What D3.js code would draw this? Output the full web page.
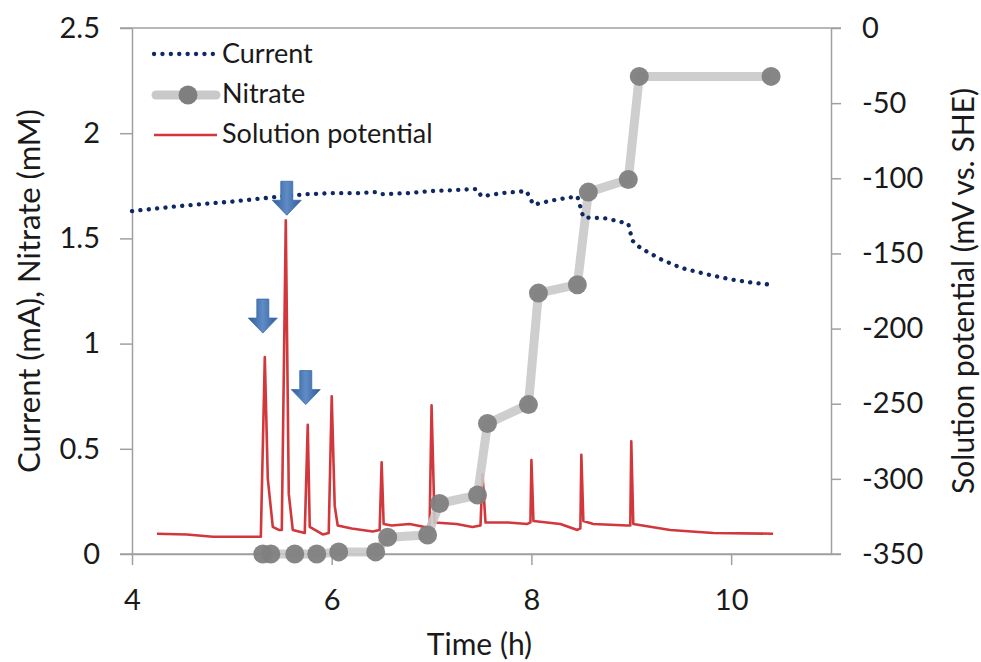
<!DOCTYPE html>
<html>
<head>
<meta charset="utf-8">
<script src="https://cdn.jsdelivr.net/npm/d3@7"></script>
<style>
  body { margin: 0; background: #fff; }
  svg text { font-family: Lato, "Open Sans", sans-serif; fill: #1a1a1a; }
</style>
</head>
<body>
<div id="chart"></div>
<script>
// time ticks and axis ticks
var timeTicks = [4, 6, 8, 10],
    leftTicks = [0, 0.5, 1, 1.5, 2, 2.5],
    rightTicks = [0, -50, -100, -150, -200, -250, -300, -350];

// current (mA) vs time (h)
var currentTime = [4.0, 4.5, 5.0, 5.3, 5.5, 5.75, 6.0, 6.25, 6.45, 6.5, 6.75, 7.0, 7.25, 7.45, 7.5, 7.7, 7.95, 8.02, 8.2, 8.46, 8.52, 8.75, 8.97, 9.01, 9.09, 9.3, 9.5, 9.75, 10.0, 10.2, 10.4],
    currentVal  = [1.63, 1.655, 1.675, 1.69, 1.70, 1.71, 1.715, 1.715, 1.72, 1.71, 1.715, 1.725, 1.73, 1.735, 1.70, 1.715, 1.725, 1.66, 1.68, 1.70, 1.60, 1.595, 1.57, 1.49, 1.455, 1.40, 1.36, 1.33, 1.305, 1.29, 1.28];

// nitrate (mM) samples
var nitrateTime = [5.31, 5.39, 5.63, 5.85, 6.07, 6.44, 6.56, 6.96, 7.08, 7.46, 7.56, 7.97, 8.07, 8.46, 8.57, 8.97, 9.08, 10.40],
    nitrateVal  = [0, 0, 0, 0, 0.01, 0.01, 0.08, 0.09, 0.24, 0.28, 0.62, 0.71, 1.24, 1.28, 1.72, 1.78, 2.27, 2.27];

// solution potential (mV vs. SHE)
var potentialTime = [4.25, 4.55, 4.81, 5.29, 5.33, 5.36, 5.41, 5.47, 5.50, 5.54, 5.57, 5.61, 5.73, 5.76, 5.78, 5.91, 5.97, 6.00, 6.03, 6.06, 6.20, 6.41, 6.48, 6.50, 6.52, 6.60, 6.78, 6.93, 6.98, 7.00, 7.03, 7.25, 7.41, 7.49, 7.51, 7.54, 7.76, 7.96, 7.99, 8.00, 8.02, 8.29, 8.46, 8.49, 8.50, 8.52, 8.62, 8.96, 8.99, 9.00, 9.02, 9.39, 9.82, 10.42],
    potentialVal  = [-336.5, -337, -338.5, -338.5, -219, -300, -332, -334, -334, -128, -310, -334, -336, -264, -332, -337, -336, -245, -318, -331, -333, -335, -334, -289, -330, -331, -330, -332, -332, -251, -329, -330, -332, -331, -297, -329, -329, -330, -329, -287.5, -328, -330, -334, -333, -284, -328, -330, -331, -331, -275, -330, -334, -336, -336.5];

// arrow annotations: tip position in time / left-axis units
var arrowTime = [5.31, 5.55, 5.74],
    arrowVal  = [1.05, 1.61, 0.71];

var width = 981, height = 662,
    margin = {left: 132, right: 150, top: 28, bottom: 108};

var svg = d3.select('#chart').append('svg')
    .attr('width', width)
    .attr('height', height);

var x = d3.scaleLinear().domain([4, 11]).range([margin.left, width - margin.right]);
var yL = d3.scaleLinear().domain([0, 2.5]).range([height - margin.bottom, margin.top]);
var yR = d3.scaleLinear().domain([-350, 0]).range([height - margin.bottom, margin.top]);

var axisColor = '#a0a0a0',
    plain = function(d) { return String(d); };

// left axis
var gL = svg.append('g').attr('transform', 'translate(' + x(4) + ',0)')
    .call(d3.axisLeft(yL).tickValues(leftTicks).tickSize(12).tickSizeOuter(0)
        .tickPadding(20).tickFormat(plain));

// right axis
var gR = svg.append('g').attr('transform', 'translate(' + x(11) + ',0)')
    .call(d3.axisRight(yR).tickValues(rightTicks).tickSize(10).tickSizeOuter(0)
        .tickPadding(21).tickFormat(plain));

// bottom axis
var gB = svg.append('g').attr('transform', 'translate(0,' + yL(0) + ')')
    .call(d3.axisBottom(x).tickValues(timeTicks).tickSize(11).tickSizeOuter(0)
        .tickPadding(24).tickFormat(plain));

[gL, gR, gB].forEach(function(g) {
    g.select('.domain').attr('stroke', axisColor).attr('stroke-width', 1.5);
    g.selectAll('.tick line').attr('stroke', axisColor).attr('stroke-width', 1.5);
    g.selectAll('.tick text').attr('font-size', 29).attr('fill', '#1a1a1a')
        .style('font-family', 'Lato, sans-serif');
});

// horizontal lines spanning the full plot at top and bottom
svg.append('line')
    .attr('x1', x(4) - 12).attr('x2', x(11) + 10)
    .attr('y1', yL(2.5)).attr('y2', yL(2.5))
    .attr('stroke', axisColor).attr('stroke-width', 1.5);
svg.append('line')
    .attr('x1', x(4) - 12).attr('x2', x(11) + 10)
    .attr('y1', yL(0)).attr('y2', yL(0))
    .attr('stroke', axisColor).attr('stroke-width', 1.5);

// axis titles
svg.append('text')
    .attr('x', x(7.48)).attr('y', 655)
    .attr('text-anchor', 'middle').attr('font-size', 30)
    .text('Time (h)');
svg.append('text')
    .attr('transform', 'translate(40,' + yL(1.25) + ') rotate(-90)')
    .attr('text-anchor', 'middle').attr('font-size', 31)
    .text('Current (mA), Nitrate (mM)');
svg.append('text')
    .attr('transform', 'translate(974,' + yL(1.25) + ') rotate(-90)')
    .attr('text-anchor', 'middle').attr('font-size', 30)
    .text('Solution potential (mV vs. SHE)');

// solution potential trace
var potLine = d3.line()
    .x(function(d, i) { return x(potentialTime[i]); })
    .y(function(d) { return yR(d); });
svg.append('path')
    .datum(potentialVal)
    .attr('d', potLine)
    .attr('fill', 'none')
    .attr('stroke', '#d2373b')
    .attr('stroke-width', 2.6)
    .attr('stroke-linejoin', 'round');

// nitrate
var nitLine = d3.line()
    .x(function(d, i) { return x(nitrateTime[i]); })
    .y(function(d) { return yL(d); });
svg.append('path')
    .datum(nitrateVal)
    .attr('d', nitLine)
    .attr('fill', 'none')
    .attr('stroke', '#c9c9c9')
    .attr('stroke-width', 9)
    .attr('stroke-linejoin', 'round')
    .attr('opacity', 0.9);
svg.append('g').selectAll('circle')
    .data(nitrateVal)
    .enter().append('circle')
    .attr('cx', function(d, i) { return x(nitrateTime[i]); })
    .attr('cy', function(d) { return yL(d); })
    .attr('r', 9.5)
    .attr('fill', '#7f7f7f')
    .attr('opacity', 0.95);

// current, dotted
var curLine = d3.line()
    .x(function(d, i) { return x(currentTime[i]); })
    .y(function(d) { return yL(d); });
svg.append('path')
    .datum(currentVal)
    .attr('d', curLine)
    .attr('fill', 'none')
    .attr('stroke', '#0e2864')
    .attr('stroke-width', 4.3)
    .attr('stroke-linecap', 'round')
    .attr('stroke-dasharray', '0.1 8.3');

// block arrows
var defs = svg.append('defs');
var grad = defs.append('linearGradient').attr('id', 'arrowFill')
    .attr('x1', '0%').attr('x2', '100%').attr('y1', '0%').attr('y2', '0%');
grad.append('stop').attr('offset', '0%').attr('stop-color', '#2f5d9a');
grad.append('stop').attr('offset', '50%').attr('stop-color', '#5f8cc6');
grad.append('stop').attr('offset', '100%').attr('stop-color', '#2f5d9a');

var aw = 29, ah = 34, shaft = 12, head = 15;
svg.append('g').selectAll('path')
    .data(arrowVal)
    .enter().append('path')
    .attr('d', function(d, i) {
        var tx = x(arrowTime[i]), ty = yL(d);
        var top = ty - ah, neck = ty - head;
        return 'M' + (tx - shaft / 2) + ',' + top +
            'L' + (tx + shaft / 2) + ',' + top +
            'L' + (tx + shaft / 2) + ',' + neck +
            'L' + (tx + aw / 2) + ',' + neck +
            'L' + tx + ',' + ty +
            'L' + (tx - aw / 2) + ',' + neck +
            'L' + (tx - shaft / 2) + ',' + neck + 'Z';
    })
    .attr('fill', 'url(#arrowFill)')
    .attr('stroke', '#3a6aa8')
    .attr('stroke-width', 0.8);

// legend
var legend = svg.append('g');
legend.append('line')
    .attr('x1', 154).attr('x2', 214).attr('y1', 54).attr('y2', 54)
    .attr('stroke', '#0e2864').attr('stroke-width', 4.3)
    .attr('stroke-linecap', 'round').attr('stroke-dasharray', '0.1 8.3');
legend.append('line')
    .attr('x1', 156).attr('x2', 216).attr('y1', 95).attr('y2', 95)
    .attr('stroke', '#c9c9c9').attr('stroke-width', 9).attr('stroke-linecap', 'round');
legend.append('circle')
    .attr('cx', 188).attr('cy', 95).attr('r', 9.5).attr('fill', '#7f7f7f');
legend.append('line')
    .attr('x1', 154).attr('x2', 217).attr('y1', 135).attr('y2', 135)
    .attr('stroke', '#d2373b').attr('stroke-width', 2.6);
var legendText = ['Current', 'Nitrate', 'Solution potential'],
    legendY = [63, 103, 143];
legend.selectAll('text')
    .data(legendText)
    .enter().append('text')
    .attr('x', 222)
    .attr('y', function(d, i) { return legendY[i]; })
    .attr('font-size', 27)
    .text(function(d) { return d; });
</script>
</body>
</html>
